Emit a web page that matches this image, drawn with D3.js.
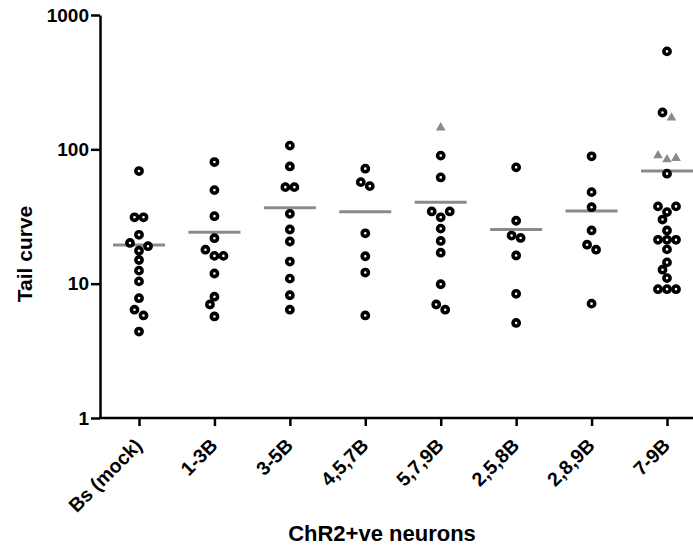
<!DOCTYPE html>
<html>
<head>
<meta charset="utf-8">
<script src="https://cdn.jsdelivr.net/npm/d3@7"></script>
<style>
  body { margin: 0; background: #fff; }
  svg { display: block; font-family: "Liberation Sans", Arial, sans-serif; }
</style>
</head>
<body>
<svg width="693" height="548"></svg>
<script>
const groups = ["Bs (mock)", "1-3B", "3-5B", "4,5,7B", "5,7,9B", "2,5,8B", "2,8,9B", "7-9B"];

// circles (one array per group)
const bsMock = [68.9, 31.2, 31.2, 23.1, 20.1, 19.0, 17.6, 15.0, 12.5, 10.4, 7.8, 6.4, 5.8, 4.4];
const b1to3 = [80.4, 49.7, 31.8, 21.8, 17.9, 16.1, 16.1, 11.9, 8.0, 7.0, 5.7];
const b3to5 = [106.6, 74.6, 52.3, 52.3, 33.1, 25.3, 20.6, 14.6, 10.9, 8.2, 6.4];
const b457 = [71.8, 57.0, 53.2, 23.7, 16.0, 12.1, 5.8];
const b579 = [89.8, 61.8, 34.5, 34.5, 31.2, 25.7, 20.8, 17.0, 9.9, 7.0, 6.4];
const b258 = [73.4, 29.4, 22.8, 21.9, 16.2, 8.4, 5.1];
const b289 = [88.7, 48.0, 37.1, 24.9, 19.5, 17.9, 7.1];
const b7to9 = [536, 188, 65.9, 37.6, 37.6, 34.1, 30.0, 24.9, 21.2, 21.2, 21.2, 18.0, 14.4, 12.7, 11.0, 9.1, 9.1, 9.1];
const circleValues = [bsMock, b1to3, b3to5, b457, b579, b258, b289, b7to9];

// grey triangles
const triangleValues = [[], [], [], [], [145], [], [], [172, 86, 84, 90]];

// mean lines
const means = [19.4, 24.1, 36.7, 34.3, 40.4, 25.3, 34.7, 68.9];

const yTicks = [1, 10, 100, 1000];

const svg = d3.select("svg");
const grey = "#8a8a8a";

const yScale = d3.scaleLog().domain([1, 1000]).range([418, 15]);
const xScale = d3.scalePoint().domain(groups).range([139, 667]);

// minor ticks 2..9 per decade
const minorTicks = [];
for (let d = 1; d < 1000; d *= 10) {
  for (let k = 2; k <= 9; k++) minorTicks.push(d * k);
}

const yAxis = svg.append("g").attr("transform", "translate(100,0)");
yAxis.call(d3.axisLeft(yScale).tickValues(minorTicks).tickSize(5).tickFormat(""));
yAxis.call(d3.axisLeft(yScale).tickValues(yTicks).tickSize(9).tickSizeOuter(0).tickFormat(d3.format("d")));
yAxis.selectAll("line").attr("stroke", "#000").attr("stroke-width", 2.5);
yAxis.select(".domain").attr("stroke-width", 2.5);
yAxis.selectAll("text")
  .attr("x", -11)
  .attr("font-size", 19)
  .attr("font-weight", "bold")
  .attr("fill", "#000")
  .attr("font-family", "Liberation Sans, Arial, sans-serif");

const xAxis = svg.append("g").attr("transform", "translate(0,418)");
xAxis.call(d3.axisBottom(xScale).tickSize(8).tickSizeOuter(0));
xAxis.select(".domain").remove();
xAxis.append("line")
  .attr("x1", 99).attr("x2", 693)
  .attr("stroke", "#000").attr("stroke-width", 2.5);
xAxis.selectAll(".tick line").attr("stroke-width", 2.5);
xAxis.selectAll(".tick text")
  .attr("font-size", 19.5)
  .attr("font-weight", "bold")
  .attr("fill", "#000")
  .attr("font-family", "Liberation Sans, Arial, sans-serif")
  .attr("text-anchor", "end")
  .attr("x", 0).attr("y", 0).attr("dy", "0.35em")
  .attr("transform", "translate(-1,24) rotate(-45)");

// axis titles
svg.append("text")
  .attr("transform", "translate(32,254) rotate(-90)")
  .attr("text-anchor", "middle")
  .attr("font-size", 21)
  .attr("font-weight", "bold")
  .text("Tail curve");

svg.append("text")
  .attr("x", 382).attr("y", 541)
  .attr("text-anchor", "middle")
  .attr("font-size", 22)
  .attr("font-weight", "bold")
  .text("ChR2+ve neurons");

// beeswarm: close values form a row spread side by side, lone points nudge sideways
const diam = 9;
function swarm(items) {
  const placed = [];
  const sorted = items.map((d) => ({ ...d, y: yScale(d.v) })).sort((a, b) => a.y - b.y);
  const rows = [];
  for (const p of sorted) {
    const last = rows[rows.length - 1];
    if (last && p.y - last[last.length - 1].y < 6.5) last.push(p);
    else rows.push([p]);
  }
  const hits = (dx, y) => placed.some((q) => Math.hypot(q.dx - dx, q.y - y) < diam - 0.5);
  for (const row of rows) {
    if (row.length > 1) {
      let offs;
      if (row.length === 2) offs = [-diam / 2, diam / 2];
      else if (row.length === 3) offs = [-diam, diam, 0];
      else offs = row.map((p, k) => (k - (row.length - 1) / 2) * diam);
      row.forEach((p, k) => {
        p.dx = offs[k];
        placed.push(p);
      });
      continue;
    }
    const p = row[0];
    let off = 0;
    for (let i = 0; i < 40; i++) {
      const cand = i === 0 ? 0 : (i % 2 ? -1 : 1) * Math.ceil(i / 2) * (diam / 2);
      if (!hits(cand, p.y)) { off = cand; break; }
    }
    p.dx = off;
    placed.push(p);
  }
  return placed;
}

const plot = svg.append("g");

groups.forEach((g, gi) => {
  const cx = xScale(g);
  const all = circleValues[gi].map((v) => ({ v, kind: "c" }))
    .concat(triangleValues[gi].map((v) => ({ v, kind: "t" })));
  const placed = swarm(all);

  plot.append("line")
    .attr("x1", cx - 26).attr("x2", cx + 26)
    .attr("y1", yScale(means[gi])).attr("y2", yScale(means[gi]))
    .attr("stroke", grey).attr("stroke-width", 3);

  plot.selectAll(null)
    .data(placed.filter((p) => p.kind === "c"))
    .join("circle")
    .attr("cx", (p) => cx + p.dx)
    .attr("cy", (p) => p.y)
    .attr("r", 3.1)
    .attr("fill", "#fff")
    .attr("stroke", "#000")
    .attr("stroke-width", 3.6);

  plot.selectAll(null)
    .data(placed.filter((p) => p.kind === "t"))
    .join("path")
    .attr("d", d3.symbol(d3.symbolTriangle, 40))
    .attr("transform", (p) => `translate(${cx + p.dx},${p.y})`)
    .attr("fill", grey);
});
</script>
</body>
</html>
